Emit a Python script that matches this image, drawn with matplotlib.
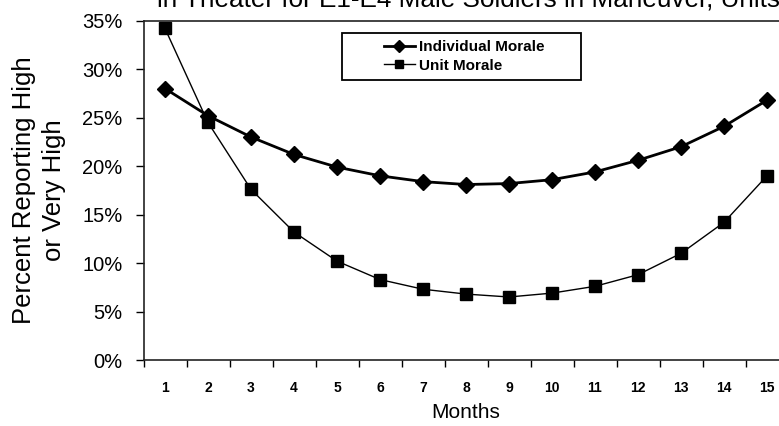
import matplotlib
matplotlib.use("Agg")
import matplotlib.pyplot as plt
from matplotlib.patches import Rectangle
from matplotlib.ticker import FixedLocator, FuncFormatter
import numpy as np

plt.rcParams['font.family'] = ['Liberation Sans', 'DejaVu Sans']

months = list(range(1, 16))
individual = [28.0, 25.2, 23.0, 21.2, 19.9, 19.0, 18.4, 18.1, 18.2, 18.6,
              19.4, 20.6, 22.0, 24.1, 26.8]
unit = [34.2, 24.5, 17.6, 13.2, 10.2, 8.3, 7.3, 6.8, 6.5, 6.9,
        7.6, 8.8, 11.0, 14.2, 19.0]
yticks = [0, 5, 10, 15, 20, 25, 30, 35]

fig = plt.figure(figsize=(7.79, 4.26), dpi=100)
ax = fig.add_axes([143.5 / 779, 66 / 426, 645 / 779, 339.3 / 426])

ax.plot(months, individual, color="black", lw=2.0, marker="D", ms=8.5,
        label="Individual Morale")
ax.plot(months, unit, color="black", lw=1.0, marker="s", ms=8.5,
        label="Unit Morale")

ax.set_xlim(0.5, 15.5)
ax.set_ylim(0, 35)

# category boundaries carry the tick marks, centres carry the labels
ax.xaxis.set_major_locator(FixedLocator(np.arange(0.5, 15.6, 1)))
ax.xaxis.set_major_formatter(FuncFormatter(lambda v, p: ""))
ax.xaxis.set_minor_locator(FixedLocator(months))
ax.xaxis.set_minor_formatter(FuncFormatter(lambda v, p: f"{int(round(v))}"))
ax.tick_params(axis="x", which="major", direction="out", length=5, width=1)
ax.tick_params(axis="x", which="minor", length=0, pad=15, labelsize=10)
for t in ax.xaxis.get_minorticklabels():
    t.set_fontweight("bold")

ax.set_yticks(yticks)
ax.set_yticklabels([f"{v}%" for v in yticks], fontsize=14.5)
ax.tick_params(axis="y", direction="out", length=6, width=1, pad=9)

for s in ["left", "bottom", "top"]:
    ax.spines[s].set_color("#222222")
    ax.spines[s].set_linewidth(1.2)
ax.spines["right"].set_visible(False)

ax.set_xlabel("Months", fontsize=15, labelpad=6)
ax.set_ylabel("Percent Reporting High\nor Very High", fontsize=18.5,
              labelpad=12, linespacing=1.3)

# legend with a hand-sized frame
leg = ax.legend(loc="center", bbox_to_anchor=(0.4975, 0.895), frameon=False,
                prop={"family": ["Liberation Sans Narrow", "Liberation Sans"],
                      "weight": "bold", "size": 11},
                handlelength=2.0, handletextpad=0.3, labelspacing=0.3,
                markerscale=0.75)
ax.add_patch(Rectangle((0.307, 0.825), 0.371, 0.14, transform=ax.transAxes,
                       fill=False, edgecolor="black", lw=1.3, zorder=5))

fig.text(157 / 779, 1 - 7 / 426,
         "in Theater for E1-E4 Male Soldiers in Maneuver, Units",
         fontsize=18.8, va="baseline", ha="left")

fig.savefig("out.png", dpi=100)
